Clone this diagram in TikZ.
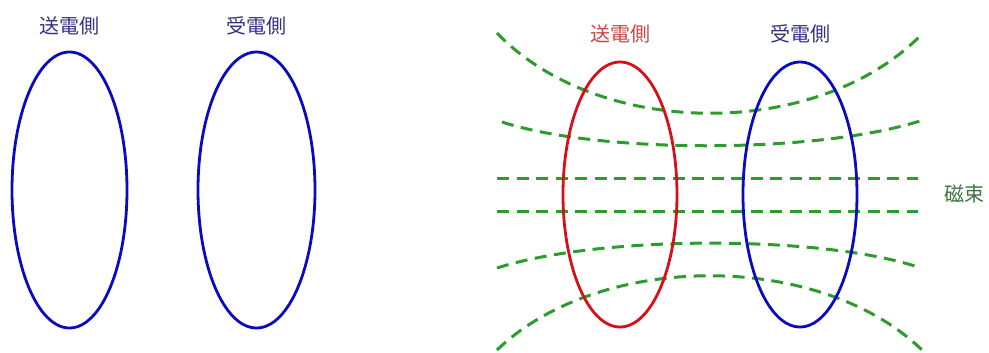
\documentclass[tikz,border=0pt]{standalone}
\usepackage{fontspec}
\setmainfont{Noto Sans CJK JP}
\usetikzlibrary{shapes.geometric, positioning}

\definecolor{coilblue}{RGB}{10,10,190}
\definecolor{coilred}{RGB}{215,15,25}
\definecolor{fluxgreen}{RGB}{45,155,45}
\definecolor{textblue}{RGB}{50,50,125}
\definecolor{textred}{RGB}{200,70,70}
\definecolor{textgreen}{RGB}{60,115,60}

\begin{document}
\begin{tikzpicture}[
    x=1pt, y=-1pt,
    coil/.style={ellipse, draw, line width=2.8pt, inner sep=0pt},
    tag/.style={inner sep=0pt, font=\fontsize{20}{20}\selectfont},
    fluxline/.style={fluxgreen, line width=3pt, dash pattern=on 12pt off 7.5pt}
]
    \useasboundingbox (0,0) rectangle (989,353);

    % Coils without flux
    \node[coil, draw=coilblue, minimum width=115pt, minimum height=276pt] (sendA) at (69.5,190) {};
    \node[coil, draw=coilblue, minimum width=117pt, minimum height=276pt] (recvA) at (256.5,190) {};
    \node[tag, textblue, above=15pt of sendA] (sendAtag) {送電側};
    \node[tag, textblue, above=15pt of recvA] (recvAtag) {受電側};

    % Flux lines
    \draw[fluxline] (497,33) .. controls (600,140) and (820,140) .. (923,33);
    \draw[fluxline] (502,122) .. controls (600,154) and (820,154) .. (923,120);
    \draw[fluxline] (497,178) -- (918,178);
    \draw[fluxline] (497,211) -- (918,211);
    \draw[fluxline] (497,268) .. controls (600,235) and (820,235) .. (918,267);
    \draw[fluxline] (497,350) .. controls (600,251) and (820,251) .. (922,350);

    % Coils with flux
    \node[coil, draw=coilred, minimum width=114pt, minimum height=265pt] (sendB) at (620,194.5) {};
    \node[coil, draw=coilblue, minimum width=114pt, minimum height=265pt] (recvB) at (800,194.5) {};
    \node[tag, textred, above=17pt of sendB] (sendBtag) {送電側};
    \node[tag, textblue, above=17pt of recvB] (recvBtag) {受電側};
    \node[tag, textgreen] (flux) at (964,194) {磁束};
\end{tikzpicture}
\end{document}
